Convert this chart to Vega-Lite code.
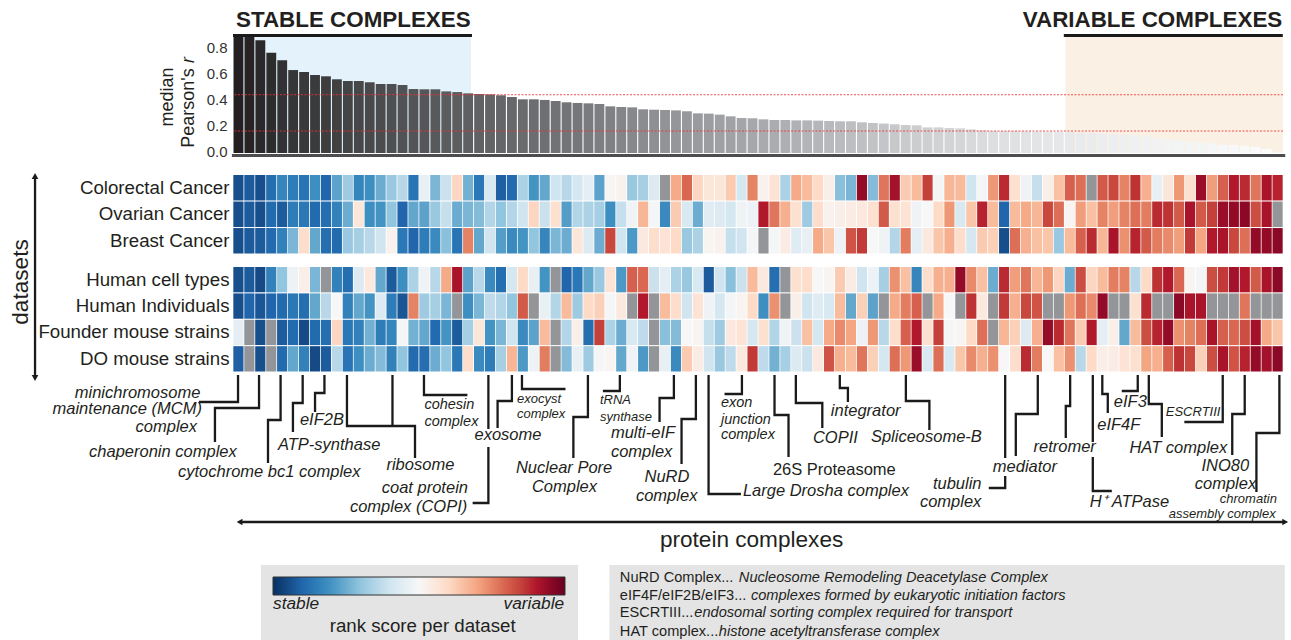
{"$schema":"https://vega.github.io/schema/vega-lite/v6.json","width":1050,"height":640,"autosize":{"type":"none"},"padding":{"left":233,"top":0,"right":8,"bottom":0},"background":"white","config":{"view":{"stroke":null},"font":"Liberation Sans"},
"datasets":{
"bands":[{"band":"stable","col":0,"col2":21.75,"top":36,"bottom":153},{"band":"variable","col":76.1,"col2":96,"top":36,"bottom":153},{"band":"panel","col":2.56,"col2":31.54,"top":565,"bottom":640},{"band":"panel","col":34.41,"col2":96.16,"top":565,"bottom":640}],
"bars":[{"col":0,"r":0.9},{"col":1,"r":0.895},{"col":2,"r":0.867},{"col":3,"r":0.772},{"col":4,"r":0.713},{"col":5,"r":0.638},{"col":6,"r":0.623},{"col":7,"r":0.6},{"col":8,"r":0.59},{"col":9,"r":0.567},{"col":10,"r":0.554},{"col":11,"r":0.554},{"col":12,"r":0.544},{"col":13,"r":0.531},{"col":14,"r":0.531},{"col":15,"r":0.523},{"col":16,"r":0.492},{"col":17,"r":0.49},{"col":18,"r":0.49},{"col":19,"r":0.474},{"col":20,"r":0.469},{"col":21,"r":0.459},{"col":22,"r":0.454},{"col":23,"r":0.451},{"col":24,"r":0.444},{"col":25,"r":0.431},{"col":26,"r":0.413},{"col":27,"r":0.413},{"col":28,"r":0.408},{"col":29,"r":0.4},{"col":30,"r":0.39},{"col":31,"r":0.385},{"col":32,"r":0.382},{"col":33,"r":0.377},{"col":34,"r":0.359},{"col":35,"r":0.354},{"col":36,"r":0.351},{"col":37,"r":0.336},{"col":38,"r":0.333},{"col":39,"r":0.331},{"col":40,"r":0.328},{"col":41,"r":0.321},{"col":42,"r":0.305},{"col":43,"r":0.303},{"col":44,"r":0.295},{"col":45,"r":0.282},{"col":46,"r":0.269},{"col":47,"r":0.267},{"col":48,"r":0.259},{"col":49,"r":0.254},{"col":50,"r":0.254},{"col":51,"r":0.251},{"col":52,"r":0.251},{"col":53,"r":0.249},{"col":54,"r":0.246},{"col":55,"r":0.244},{"col":56,"r":0.244},{"col":57,"r":0.236},{"col":58,"r":0.231},{"col":59,"r":0.226},{"col":60,"r":0.221},{"col":61,"r":0.215},{"col":62,"r":0.213},{"col":63,"r":0.197},{"col":64,"r":0.197},{"col":65,"r":0.192},{"col":66,"r":0.19},{"col":67,"r":0.182},{"col":68,"r":0.174},{"col":69,"r":0.169},{"col":70,"r":0.169},{"col":71,"r":0.169},{"col":72,"r":0.167},{"col":73,"r":0.164},{"col":74,"r":0.164},{"col":75,"r":0.162},{"col":76,"r":0.159},{"col":77,"r":0.156},{"col":78,"r":0.154},{"col":79,"r":0.149},{"col":80,"r":0.144},{"col":81,"r":0.141},{"col":82,"r":0.138},{"col":83,"r":0.126},{"col":84,"r":0.113},{"col":85,"r":0.105},{"col":86,"r":0.095},{"col":87,"r":0.087},{"col":88,"r":0.079},{"col":89,"r":0.074},{"col":90,"r":0.062},{"col":91,"r":0.062},{"col":92,"r":0.056},{"col":93,"r":0.046},{"col":94,"r":0.031},{"col":95,"r":0.003}],
"thresholds":[{"threshold":0.448},{"threshold":0.169}],
"cancers":[{"col":0,"set":"Colorectal Cancer","score":-4.4},{"col":1,"set":"Colorectal Cancer","score":-4.2},{"col":2,"set":"Colorectal Cancer","score":-4.4},{"col":3,"set":"Colorectal Cancer","score":-3.8},{"col":4,"set":"Colorectal Cancer","score":-3.3},{"col":5,"set":"Colorectal Cancer","score":-3.5},{"col":6,"set":"Colorectal Cancer","score":-3.7},{"col":7,"set":"Colorectal Cancer","score":-3.1},{"col":8,"set":"Colorectal Cancer","score":-4},{"col":9,"set":"Colorectal Cancer","score":-2.7},{"col":10,"set":"Colorectal Cancer","score":-1.8},{"col":11,"set":"Colorectal Cancer","score":-3.3},{"col":12,"set":"Colorectal Cancer","score":-3.1},{"col":13,"set":"Colorectal Cancer","score":-2.5},{"col":14,"set":"Colorectal Cancer","score":-1.9},{"col":15,"set":"Colorectal Cancer","score":-1.4},{"col":16,"set":"Colorectal Cancer","score":-3.7},{"col":17,"set":"Colorectal Cancer","score":-0.4},{"col":18,"set":"Colorectal Cancer","score":-2.3},{"col":19,"set":"Colorectal Cancer","score":-1.1},{"col":20,"set":"Colorectal Cancer","score":1.1},{"col":21,"set":"Colorectal Cancer","score":-2.4},{"col":22,"set":"Colorectal Cancer","score":-3.6},{"col":23,"set":"Colorectal Cancer","score":-0.8},{"col":24,"set":"Colorectal Cancer","score":-4.1},{"col":25,"set":"Colorectal Cancer","score":-3.9},{"col":26,"set":"Colorectal Cancer","score":-1.6},{"col":27,"set":"Colorectal Cancer","score":-3},{"col":28,"set":"Colorectal Cancer","score":-2.6},{"col":29,"set":"Colorectal Cancer","score":-1},{"col":30,"set":"Colorectal Cancer","score":-1.4},{"col":31,"set":"Colorectal Cancer","score":-0.9},{"col":32,"set":"Colorectal Cancer","score":-0.5},{"col":33,"set":"Colorectal Cancer","score":-2.7},{"col":34,"set":"Colorectal Cancer","score":0.1},{"col":35,"set":"Colorectal Cancer","score":0.2},{"col":36,"set":"Colorectal Cancer","score":-1.9},{"col":37,"set":"Colorectal Cancer","score":-1.7},{"col":38,"set":"Colorectal Cancer","score":-0.7},{"col":39,"set":"Colorectal Cancer","score":null},{"col":40,"set":"Colorectal Cancer","score":1.9},{"col":41,"set":"Colorectal Cancer","score":2.9},{"col":42,"set":"Colorectal Cancer","score":1.1},{"col":43,"set":"Colorectal Cancer","score":0.6},{"col":44,"set":"Colorectal Cancer","score":0.6},{"col":45,"set":"Colorectal Cancer","score":1.3},{"col":46,"set":"Colorectal Cancer","score":-0.9},{"col":47,"set":"Colorectal Cancer","score":2.5},{"col":48,"set":"Colorectal Cancer","score":0.2},{"col":49,"set":"Colorectal Cancer","score":0.7},{"col":50,"set":"Colorectal Cancer","score":-1.6},{"col":51,"set":"Colorectal Cancer","score":1.9},{"col":52,"set":"Colorectal Cancer","score":1.6},{"col":53,"set":"Colorectal Cancer","score":1},{"col":54,"set":"Colorectal Cancer","score":0.3},{"col":55,"set":"Colorectal Cancer","score":-2.1},{"col":56,"set":"Colorectal Cancer","score":-2.3},{"col":57,"set":"Colorectal Cancer","score":4.4},{"col":58,"set":"Colorectal Cancer","score":-2.2},{"col":59,"set":"Colorectal Cancer","score":2.7},{"col":60,"set":"Colorectal Cancer","score":4.2},{"col":61,"set":"Colorectal Cancer","score":1.3},{"col":62,"set":"Colorectal Cancer","score":1.6},{"col":63,"set":"Colorectal Cancer","score":3.5},{"col":64,"set":"Colorectal Cancer","score":-0.1},{"col":65,"set":"Colorectal Cancer","score":1.7},{"col":66,"set":"Colorectal Cancer","score":1.6},{"col":67,"set":"Colorectal Cancer","score":-1},{"col":68,"set":"Colorectal Cancer","score":-0.1},{"col":69,"set":"Colorectal Cancer","score":2.2},{"col":70,"set":"Colorectal Cancer","score":3.8},{"col":71,"set":"Colorectal Cancer","score":0.8},{"col":72,"set":"Colorectal Cancer","score":-0.2},{"col":73,"set":"Colorectal Cancer","score":-1.2},{"col":74,"set":"Colorectal Cancer","score":0.3},{"col":75,"set":"Colorectal Cancer","score":1.5},{"col":76,"set":"Colorectal Cancer","score":3},{"col":77,"set":"Colorectal Cancer","score":2.8},{"col":78,"set":"Colorectal Cancer","score":null},{"col":79,"set":"Colorectal Cancer","score":3.1},{"col":80,"set":"Colorectal Cancer","score":3.4},{"col":81,"set":"Colorectal Cancer","score":2.5},{"col":82,"set":"Colorectal Cancer","score":3.7},{"col":83,"set":"Colorectal Cancer","score":1.8},{"col":84,"set":"Colorectal Cancer","score":-0.4},{"col":85,"set":"Colorectal Cancer","score":0.6},{"col":86,"set":"Colorectal Cancer","score":2.2},{"col":87,"set":"Colorectal Cancer","score":0.8},{"col":88,"set":"Colorectal Cancer","score":4.3},{"col":89,"set":"Colorectal Cancer","score":2.1},{"col":90,"set":"Colorectal Cancer","score":3},{"col":91,"set":"Colorectal Cancer","score":4},{"col":92,"set":"Colorectal Cancer","score":3.8},{"col":93,"set":"Colorectal Cancer","score":2.7},{"col":94,"set":"Colorectal Cancer","score":4.1},{"col":95,"set":"Colorectal Cancer","score":3.9},
{"col":0,"set":"Ovarian Cancer","score":-4.4},{"col":1,"set":"Ovarian Cancer","score":-4.2},{"col":2,"set":"Ovarian Cancer","score":-4.4},{"col":3,"set":"Ovarian Cancer","score":-3.9},{"col":4,"set":"Ovarian Cancer","score":-4.2},{"col":5,"set":"Ovarian Cancer","score":-3.5},{"col":6,"set":"Ovarian Cancer","score":-3.6},{"col":7,"set":"Ovarian Cancer","score":-3.9},{"col":8,"set":"Ovarian Cancer","score":-3.8},{"col":9,"set":"Ovarian Cancer","score":-3.4},{"col":10,"set":"Ovarian Cancer","score":-2.5},{"col":11,"set":"Ovarian Cancer","score":0.6},{"col":12,"set":"Ovarian Cancer","score":-3.1},{"col":13,"set":"Ovarian Cancer","score":-3},{"col":14,"set":"Ovarian Cancer","score":-2},{"col":15,"set":"Ovarian Cancer","score":-4},{"col":16,"set":"Ovarian Cancer","score":-2.6},{"col":17,"set":"Ovarian Cancer","score":-2.7},{"col":18,"set":"Ovarian Cancer","score":-1.9},{"col":19,"set":"Ovarian Cancer","score":-1.2},{"col":20,"set":"Ovarian Cancer","score":-2.5},{"col":21,"set":"Ovarian Cancer","score":-2.3},{"col":22,"set":"Ovarian Cancer","score":-2.2},{"col":23,"set":"Ovarian Cancer","score":-1.5},{"col":24,"set":"Ovarian Cancer","score":-2},{"col":25,"set":"Ovarian Cancer","score":-1.5},{"col":26,"set":"Ovarian Cancer","score":-1},{"col":27,"set":"Ovarian Cancer","score":1.1},{"col":28,"set":"Ovarian Cancer","score":-1.1},{"col":29,"set":"Ovarian Cancer","score":0.8},{"col":30,"set":"Ovarian Cancer","score":-2.8},{"col":31,"set":"Ovarian Cancer","score":-1.5},{"col":32,"set":"Ovarian Cancer","score":-1.6},{"col":33,"set":"Ovarian Cancer","score":-1.7},{"col":34,"set":"Ovarian Cancer","score":-3.1},{"col":35,"set":"Ovarian Cancer","score":-1.2},{"col":36,"set":"Ovarian Cancer","score":-0.2},{"col":37,"set":"Ovarian Cancer","score":1.7},{"col":38,"set":"Ovarian Cancer","score":-0.1},{"col":39,"set":"Ovarian Cancer","score":-3.2},{"col":40,"set":"Ovarian Cancer","score":1.3},{"col":41,"set":"Ovarian Cancer","score":-0.8},{"col":42,"set":"Ovarian Cancer","score":-2.5},{"col":43,"set":"Ovarian Cancer","score":-0.6},{"col":44,"set":"Ovarian Cancer","score":-0.7},{"col":45,"set":"Ovarian Cancer","score":-0.9},{"col":46,"set":"Ovarian Cancer","score":-0.2},{"col":47,"set":"Ovarian Cancer","score":-0.3},{"col":48,"set":"Ovarian Cancer","score":4},{"col":49,"set":"Ovarian Cancer","score":2.7},{"col":50,"set":"Ovarian Cancer","score":1.8},{"col":51,"set":"Ovarian Cancer","score":0.8},{"col":52,"set":"Ovarian Cancer","score":-1.8},{"col":53,"set":"Ovarian Cancer","score":0.9},{"col":54,"set":"Ovarian Cancer","score":0.2},{"col":55,"set":"Ovarian Cancer","score":0.3},{"col":56,"set":"Ovarian Cancer","score":0.4},{"col":57,"set":"Ovarian Cancer","score":0.5},{"col":58,"set":"Ovarian Cancer","score":0.8},{"col":59,"set":"Ovarian Cancer","score":3.1},{"col":60,"set":"Ovarian Cancer","score":0.8},{"col":61,"set":"Ovarian Cancer","score":0.7},{"col":62,"set":"Ovarian Cancer","score":-0.2},{"col":63,"set":"Ovarian Cancer","score":0},{"col":64,"set":"Ovarian Cancer","score":1},{"col":65,"set":"Ovarian Cancer","score":2.2},{"col":66,"set":"Ovarian Cancer","score":-0.8},{"col":67,"set":"Ovarian Cancer","score":1.4},{"col":68,"set":"Ovarian Cancer","score":3.9},{"col":69,"set":"Ovarian Cancer","score":1.6},{"col":70,"set":"Ovarian Cancer","score":-4},{"col":71,"set":"Ovarian Cancer","score":1.6},{"col":72,"set":"Ovarian Cancer","score":1.9},{"col":73,"set":"Ovarian Cancer","score":1.7},{"col":74,"set":"Ovarian Cancer","score":3.4},{"col":75,"set":"Ovarian Cancer","score":2.8},{"col":76,"set":"Ovarian Cancer","score":0.1},{"col":77,"set":"Ovarian Cancer","score":2.1},{"col":78,"set":"Ovarian Cancer","score":1.5},{"col":79,"set":"Ovarian Cancer","score":2.5},{"col":80,"set":"Ovarian Cancer","score":2.1},{"col":81,"set":"Ovarian Cancer","score":2.5},{"col":82,"set":"Ovarian Cancer","score":2.8},{"col":83,"set":"Ovarian Cancer","score":2.6},{"col":84,"set":"Ovarian Cancer","score":3.8},{"col":85,"set":"Ovarian Cancer","score":3.7},{"col":86,"set":"Ovarian Cancer","score":3.1},{"col":87,"set":"Ovarian Cancer","score":4.1},{"col":88,"set":"Ovarian Cancer","score":3.1},{"col":89,"set":"Ovarian Cancer","score":3.5},{"col":90,"set":"Ovarian Cancer","score":4.3},{"col":91,"set":"Ovarian Cancer","score":4.4},{"col":92,"set":"Ovarian Cancer","score":4.5},{"col":93,"set":"Ovarian Cancer","score":3.3},{"col":94,"set":"Ovarian Cancer","score":4.1},{"col":95,"set":"Ovarian Cancer","score":null},
{"col":0,"set":"Breast Cancer","score":-4.4},{"col":1,"set":"Breast Cancer","score":-4.2},{"col":2,"set":"Breast Cancer","score":-4.2},{"col":3,"set":"Breast Cancer","score":-3.9},{"col":4,"set":"Breast Cancer","score":-3.4},{"col":5,"set":"Breast Cancer","score":-2.3},{"col":6,"set":"Breast Cancer","score":0.9},{"col":7,"set":"Breast Cancer","score":-2.6},{"col":8,"set":"Breast Cancer","score":-3.8},{"col":9,"set":"Breast Cancer","score":-3.9},{"col":10,"set":"Breast Cancer","score":-1.9},{"col":11,"set":"Breast Cancer","score":-1.7},{"col":12,"set":"Breast Cancer","score":-1.4},{"col":13,"set":"Breast Cancer","score":-1},{"col":14,"set":"Breast Cancer","score":0.2},{"col":15,"set":"Breast Cancer","score":-3.6},{"col":16,"set":"Breast Cancer","score":-4},{"col":17,"set":"Breast Cancer","score":-3.5},{"col":18,"set":"Breast Cancer","score":-3.2},{"col":19,"set":"Breast Cancer","score":-2.1},{"col":20,"set":"Breast Cancer","score":-3.7},{"col":21,"set":"Breast Cancer","score":2.5},{"col":22,"set":"Breast Cancer","score":-2.6},{"col":23,"set":"Breast Cancer","score":-1},{"col":24,"set":"Breast Cancer","score":-2.8},{"col":25,"set":"Breast Cancer","score":-3.2},{"col":26,"set":"Breast Cancer","score":-3},{"col":27,"set":"Breast Cancer","score":-2},{"col":28,"set":"Breast Cancer","score":-3.3},{"col":29,"set":"Breast Cancer","score":-2.3},{"col":30,"set":"Breast Cancer","score":-2.5},{"col":31,"set":"Breast Cancer","score":0.6},{"col":32,"set":"Breast Cancer","score":-0.7},{"col":33,"set":"Breast Cancer","score":-2.5},{"col":34,"set":"Breast Cancer","score":3.4},{"col":35,"set":"Breast Cancer","score":-1},{"col":36,"set":"Breast Cancer","score":-2.9},{"col":37,"set":"Breast Cancer","score":0.5},{"col":38,"set":"Breast Cancer","score":0.9},{"col":39,"set":"Breast Cancer","score":0.7},{"col":40,"set":"Breast Cancer","score":1},{"col":41,"set":"Breast Cancer","score":-1.9},{"col":42,"set":"Breast Cancer","score":-1.6},{"col":43,"set":"Breast Cancer","score":0.1},{"col":44,"set":"Breast Cancer","score":0.2},{"col":45,"set":"Breast Cancer","score":-1.2},{"col":46,"set":"Breast Cancer","score":-1},{"col":47,"set":"Breast Cancer","score":-0.1},{"col":48,"set":"Breast Cancer","score":null},{"col":49,"set":"Breast Cancer","score":-0.1},{"col":50,"set":"Breast Cancer","score":0.4},{"col":51,"set":"Breast Cancer","score":-0.6},{"col":52,"set":"Breast Cancer","score":-0.4},{"col":53,"set":"Breast Cancer","score":1.9},{"col":54,"set":"Breast Cancer","score":1.4},{"col":55,"set":"Breast Cancer","score":-0.3},{"col":56,"set":"Breast Cancer","score":3.2},{"col":57,"set":"Breast Cancer","score":3.6},{"col":58,"set":"Breast Cancer","score":0},{"col":59,"set":"Breast Cancer","score":-0.2},{"col":60,"set":"Breast Cancer","score":-1.5},{"col":61,"set":"Breast Cancer","score":2.6},{"col":62,"set":"Breast Cancer","score":-0.5},{"col":63,"set":"Breast Cancer","score":0.5},{"col":64,"set":"Breast Cancer","score":1.4},{"col":65,"set":"Breast Cancer","score":1.8},{"col":66,"set":"Breast Cancer","score":0.9},{"col":67,"set":"Breast Cancer","score":-0.9},{"col":68,"set":"Breast Cancer","score":1.3},{"col":69,"set":"Breast Cancer","score":1.2},{"col":70,"set":"Breast Cancer","score":-4.4},{"col":71,"set":"Breast Cancer","score":2.8},{"col":72,"set":"Breast Cancer","score":1.8},{"col":73,"set":"Breast Cancer","score":1.5},{"col":74,"set":"Breast Cancer","score":1.4},{"col":75,"set":"Breast Cancer","score":-1.9},{"col":76,"set":"Breast Cancer","score":1.6},{"col":77,"set":"Breast Cancer","score":3},{"col":78,"set":"Breast Cancer","score":3.8},{"col":79,"set":"Breast Cancer","score":1.7},{"col":80,"set":"Breast Cancer","score":4.1},{"col":81,"set":"Breast Cancer","score":2.3},{"col":82,"set":"Breast Cancer","score":3.9},{"col":83,"set":"Breast Cancer","score":3.1},{"col":84,"set":"Breast Cancer","score":2.6},{"col":85,"set":"Breast Cancer","score":2.4},{"col":86,"set":"Breast Cancer","score":2.1},{"col":87,"set":"Breast Cancer","score":3.6},{"col":88,"set":"Breast Cancer","score":2},{"col":89,"set":"Breast Cancer","score":4},{"col":90,"set":"Breast Cancer","score":4.1},{"col":91,"set":"Breast Cancer","score":3.4},{"col":92,"set":"Breast Cancer","score":2.8},{"col":93,"set":"Breast Cancer","score":4.4},{"col":94,"set":"Breast Cancer","score":4.4},{"col":95,"set":"Breast Cancer","score":4.5}],
"models":[{"col":0,"set":"Human cell types","score":-4.4},{"col":1,"set":"Human cell types","score":-4.2},{"col":2,"set":"Human cell types","score":-4.5},{"col":3,"set":"Human cell types","score":-3.4},{"col":4,"set":"Human cell types","score":-2},{"col":5,"set":"Human cell types","score":-0.3},{"col":6,"set":"Human cell types","score":0.3},{"col":7,"set":"Human cell types","score":-2.3},{"col":8,"set":"Human cell types","score":null},{"col":9,"set":"Human cell types","score":-3.4},{"col":10,"set":"Human cell types","score":-3.8},{"col":11,"set":"Human cell types","score":-0.7},{"col":12,"set":"Human cell types","score":0.5},{"col":13,"set":"Human cell types","score":-2.6},{"col":14,"set":"Human cell types","score":-4.2},{"col":15,"set":"Human cell types","score":-3.1},{"col":16,"set":"Human cell types","score":-1.6},{"col":17,"set":"Human cell types","score":-0.2},{"col":18,"set":"Human cell types","score":-1.4},{"col":19,"set":"Human cell types","score":1.9},{"col":20,"set":"Human cell types","score":4.1},{"col":21,"set":"Human cell types","score":-2.7},{"col":22,"set":"Human cell types","score":-1.4},{"col":23,"set":"Human cell types","score":-3.2},{"col":24,"set":"Human cell types","score":-3.8},{"col":25,"set":"Human cell types","score":-0.9},{"col":26,"set":"Human cell types","score":1},{"col":27,"set":"Human cell types","score":-0.4},{"col":28,"set":"Human cell types","score":-3},{"col":29,"set":"Human cell types","score":null},{"col":30,"set":"Human cell types","score":-4},{"col":31,"set":"Human cell types","score":-3.6},{"col":32,"set":"Human cell types","score":-2.6},{"col":33,"set":"Human cell types","score":-1.9},{"col":34,"set":"Human cell types","score":0.7},{"col":35,"set":"Human cell types","score":-2.9},{"col":36,"set":"Human cell types","score":3},{"col":37,"set":"Human cell types","score":2.9},{"col":38,"set":"Human cell types","score":-1.1},{"col":39,"set":"Human cell types","score":-0.5},{"col":40,"set":"Human cell types","score":-1.6},{"col":41,"set":"Human cell types","score":-1.9},{"col":42,"set":"Human cell types","score":-0.8},{"col":43,"set":"Human cell types","score":-4.2},{"col":44,"set":"Human cell types","score":-1},{"col":45,"set":"Human cell types","score":-2.1},{"col":46,"set":"Human cell types","score":-1.1},{"col":47,"set":"Human cell types","score":1.6},{"col":48,"set":"Human cell types","score":0.5},{"col":49,"set":"Human cell types","score":-3.8},{"col":50,"set":"Human cell types","score":null},{"col":51,"set":"Human cell types","score":0.8},{"col":52,"set":"Human cell types","score":0.9},{"col":53,"set":"Human cell types","score":0},{"col":54,"set":"Human cell types","score":0.1},{"col":55,"set":"Human cell types","score":1.3},{"col":56,"set":"Human cell types","score":0.4},{"col":57,"set":"Human cell types","score":-1},{"col":58,"set":"Human cell types","score":-0.3},{"col":59,"set":"Human cell types","score":-1.7},{"col":60,"set":"Human cell types","score":2.3},{"col":61,"set":"Human cell types","score":1.5},{"col":62,"set":"Human cell types","score":-3.3},{"col":63,"set":"Human cell types","score":0.9},{"col":64,"set":"Human cell types","score":1.8},{"col":65,"set":"Human cell types","score":1.8},{"col":66,"set":"Human cell types","score":4.4},{"col":67,"set":"Human cell types","score":2.4},{"col":68,"set":"Human cell types","score":1.5},{"col":69,"set":"Human cell types","score":-2.5},{"col":70,"set":"Human cell types","score":3.8},{"col":71,"set":"Human cell types","score":2.1},{"col":72,"set":"Human cell types","score":2.7},{"col":73,"set":"Human cell types","score":1.7},{"col":74,"set":"Human cell types","score":2.2},{"col":75,"set":"Human cell types","score":1.1},{"col":76,"set":"Human cell types","score":-2.5},{"col":77,"set":"Human cell types","score":3.3},{"col":78,"set":"Human cell types","score":1.1},{"col":79,"set":"Human cell types","score":1.6},{"col":80,"set":"Human cell types","score":2.6},{"col":81,"set":"Human cell types","score":2.5},{"col":82,"set":"Human cell types","score":-1.4},{"col":83,"set":"Human cell types","score":1},{"col":84,"set":"Human cell types","score":3.7},{"col":85,"set":"Human cell types","score":4},{"col":86,"set":"Human cell types","score":2.9},{"col":87,"set":"Human cell types","score":0.1},{"col":88,"set":"Human cell types","score":-0.1},{"col":89,"set":"Human cell types","score":3.3},{"col":90,"set":"Human cell types","score":3.6},{"col":91,"set":"Human cell types","score":4.2},{"col":92,"set":"Human cell types","score":4},{"col":93,"set":"Human cell types","score":3.1},{"col":94,"set":"Human cell types","score":4.1},{"col":95,"set":"Human cell types","score":4.5},
{"col":0,"set":"Human Individuals","score":-4.4},{"col":1,"set":"Human Individuals","score":-4},{"col":2,"set":"Human Individuals","score":-4.3},{"col":3,"set":"Human Individuals","score":-4},{"col":4,"set":"Human Individuals","score":-3.9},{"col":5,"set":"Human Individuals","score":-3.6},{"col":6,"set":"Human Individuals","score":-3.8},{"col":7,"set":"Human Individuals","score":-2.6},{"col":8,"set":"Human Individuals","score":-1.4},{"col":9,"set":"Human Individuals","score":0},{"col":10,"set":"Human Individuals","score":-3.4},{"col":11,"set":"Human Individuals","score":-2.6},{"col":12,"set":"Human Individuals","score":-3},{"col":13,"set":"Human Individuals","score":-0.7},{"col":14,"set":"Human Individuals","score":-3.5},{"col":15,"set":"Human Individuals","score":-4.3},{"col":16,"set":"Human Individuals","score":2.5},{"col":17,"set":"Human Individuals","score":-1.8},{"col":18,"set":"Human Individuals","score":-1.7},{"col":19,"set":"Human Individuals","score":-2.3},{"col":20,"set":"Human Individuals","score":null},{"col":21,"set":"Human Individuals","score":-3.1},{"col":22,"set":"Human Individuals","score":-2.3},{"col":23,"set":"Human Individuals","score":-1.3},{"col":24,"set":"Human Individuals","score":-1.5},{"col":25,"set":"Human Individuals","score":-2},{"col":26,"set":"Human Individuals","score":3.1},{"col":27,"set":"Human Individuals","score":null},{"col":28,"set":"Human Individuals","score":-0.4},{"col":29,"set":"Human Individuals","score":-1.5},{"col":30,"set":"Human Individuals","score":1.6},{"col":31,"set":"Human Individuals","score":-1.8},{"col":32,"set":"Human Individuals","score":1},{"col":33,"set":"Human Individuals","score":1.2},{"col":34,"set":"Human Individuals","score":-0.1},{"col":35,"set":"Human Individuals","score":0.5},{"col":36,"set":"Human Individuals","score":null},{"col":37,"set":"Human Individuals","score":4},{"col":38,"set":"Human Individuals","score":null},{"col":39,"set":"Human Individuals","score":1.6},{"col":40,"set":"Human Individuals","score":0.9},{"col":41,"set":"Human Individuals","score":-1},{"col":42,"set":"Human Individuals","score":0.7},{"col":43,"set":"Human Individuals","score":-0.2},{"col":44,"set":"Human Individuals","score":-0.9},{"col":45,"set":"Human Individuals","score":-0.1},{"col":46,"set":"Human Individuals","score":0.1},{"col":47,"set":"Human Individuals","score":1},{"col":48,"set":"Human Individuals","score":-3.1},{"col":49,"set":"Human Individuals","score":2.3},{"col":50,"set":"Human Individuals","score":null},{"col":51,"set":"Human Individuals","score":0.3},{"col":52,"set":"Human Individuals","score":-1},{"col":53,"set":"Human Individuals","score":-0.6},{"col":54,"set":"Human Individuals","score":-0.8},{"col":55,"set":"Human Individuals","score":1.6},{"col":56,"set":"Human Individuals","score":-2.6},{"col":57,"set":"Human Individuals","score":1.2},{"col":58,"set":"Human Individuals","score":-2.7},{"col":59,"set":"Human Individuals","score":null},{"col":60,"set":"Human Individuals","score":1.9},{"col":61,"set":"Human Individuals","score":2.6},{"col":62,"set":"Human Individuals","score":3},{"col":63,"set":"Human Individuals","score":null},{"col":64,"set":"Human Individuals","score":1.9},{"col":65,"set":"Human Individuals","score":0},{"col":66,"set":"Human Individuals","score":null},{"col":67,"set":"Human Individuals","score":3.7},{"col":68,"set":"Human Individuals","score":0.5},{"col":69,"set":"Human Individuals","score":null},{"col":70,"set":"Human Individuals","score":3.6},{"col":71,"set":"Human Individuals","score":1.8},{"col":72,"set":"Human Individuals","score":3.4},{"col":73,"set":"Human Individuals","score":3.2},{"col":74,"set":"Human Individuals","score":null},{"col":75,"set":"Human Individuals","score":null},{"col":76,"set":"Human Individuals","score":2.2},{"col":77,"set":"Human Individuals","score":2.8},{"col":78,"set":"Human Individuals","score":2.4},{"col":79,"set":"Human Individuals","score":4.4},{"col":80,"set":"Human Individuals","score":null},{"col":81,"set":"Human Individuals","score":null},{"col":82,"set":"Human Individuals","score":0.8},{"col":83,"set":"Human Individuals","score":3.8},{"col":84,"set":"Human Individuals","score":null},{"col":85,"set":"Human Individuals","score":null},{"col":86,"set":"Human Individuals","score":4.5},{"col":87,"set":"Human Individuals","score":4.1},{"col":88,"set":"Human Individuals","score":4.1},{"col":89,"set":"Human Individuals","score":null},{"col":90,"set":"Human Individuals","score":null},{"col":91,"set":"Human Individuals","score":null},{"col":92,"set":"Human Individuals","score":2.7},{"col":93,"set":"Human Individuals","score":null},{"col":94,"set":"Human Individuals","score":null},{"col":95,"set":"Human Individuals","score":null},
{"col":0,"set":"Founder mouse strains","score":-0.5},{"col":1,"set":"Founder mouse strains","score":null},{"col":2,"set":"Founder mouse strains","score":-4.4},{"col":3,"set":"Founder mouse strains","score":null},{"col":4,"set":"Founder mouse strains","score":-4.2},{"col":5,"set":"Founder mouse strains","score":-3.9},{"col":6,"set":"Founder mouse strains","score":-4.5},{"col":7,"set":"Founder mouse strains","score":-3.9},{"col":8,"set":"Founder mouse strains","score":-3.8},{"col":9,"set":"Founder mouse strains","score":1.1},{"col":10,"set":"Founder mouse strains","score":-3.6},{"col":11,"set":"Founder mouse strains","score":-3.4},{"col":12,"set":"Founder mouse strains","score":-2.4},{"col":13,"set":"Founder mouse strains","score":-3.5},{"col":14,"set":"Founder mouse strains","score":-3.3},{"col":15,"set":"Founder mouse strains","score":-0.1},{"col":16,"set":"Founder mouse strains","score":-2.4},{"col":17,"set":"Founder mouse strains","score":-2.6},{"col":18,"set":"Founder mouse strains","score":-3.9},{"col":19,"set":"Founder mouse strains","score":-3},{"col":20,"set":"Founder mouse strains","score":-4.2},{"col":21,"set":"Founder mouse strains","score":-1.7},{"col":22,"set":"Founder mouse strains","score":0.6},{"col":23,"set":"Founder mouse strains","score":-3},{"col":24,"set":"Founder mouse strains","score":-2.3},{"col":25,"set":"Founder mouse strains","score":-1},{"col":26,"set":"Founder mouse strains","score":-3.2},{"col":27,"set":"Founder mouse strains","score":-2.7},{"col":28,"set":"Founder mouse strains","score":1.6},{"col":29,"set":"Founder mouse strains","score":null},{"col":30,"set":"Founder mouse strains","score":-1.5},{"col":31,"set":"Founder mouse strains","score":0.3},{"col":32,"set":"Founder mouse strains","score":-3.8},{"col":33,"set":"Founder mouse strains","score":3.5},{"col":34,"set":"Founder mouse strains","score":-1.6},{"col":35,"set":"Founder mouse strains","score":-2.5},{"col":36,"set":"Founder mouse strains","score":-0.8},{"col":37,"set":"Founder mouse strains","score":-1.3},{"col":38,"set":"Founder mouse strains","score":null},{"col":39,"set":"Founder mouse strains","score":-2.1},{"col":40,"set":"Founder mouse strains","score":-2.2},{"col":41,"set":"Founder mouse strains","score":0},{"col":42,"set":"Founder mouse strains","score":0.1},{"col":43,"set":"Founder mouse strains","score":-1.2},{"col":44,"set":"Founder mouse strains","score":-1.8},{"col":45,"set":"Founder mouse strains","score":0.5},{"col":46,"set":"Founder mouse strains","score":0.7},{"col":47,"set":"Founder mouse strains","score":-0.9},{"col":48,"set":"Founder mouse strains","score":0.8},{"col":49,"set":"Founder mouse strains","score":-1.5},{"col":50,"set":"Founder mouse strains","score":-0.2},{"col":51,"set":"Founder mouse strains","score":-1.1},{"col":52,"set":"Founder mouse strains","score":1.5},{"col":53,"set":"Founder mouse strains","score":-0.9},{"col":54,"set":"Founder mouse strains","score":1.9},{"col":55,"set":"Founder mouse strains","score":2.4},{"col":56,"set":"Founder mouse strains","score":2},{"col":57,"set":"Founder mouse strains","score":-0.3},{"col":58,"set":"Founder mouse strains","score":2.2},{"col":59,"set":"Founder mouse strains","score":-1.4},{"col":60,"set":"Founder mouse strains","score":0.9},{"col":61,"set":"Founder mouse strains","score":3},{"col":62,"set":"Founder mouse strains","score":4},{"col":63,"set":"Founder mouse strains","score":0.8},{"col":64,"set":"Founder mouse strains","score":3.5},{"col":65,"set":"Founder mouse strains","score":-0.1},{"col":66,"set":"Founder mouse strains","score":0.1},{"col":67,"set":"Founder mouse strains","score":1},{"col":68,"set":"Founder mouse strains","score":2.8},{"col":69,"set":"Founder mouse strains","score":null},{"col":70,"set":"Founder mouse strains","score":1.7},{"col":71,"set":"Founder mouse strains","score":1.2},{"col":72,"set":"Founder mouse strains","score":-0.7},{"col":73,"set":"Founder mouse strains","score":1.8},{"col":74,"set":"Founder mouse strains","score":4.4},{"col":75,"set":"Founder mouse strains","score":3.8},{"col":76,"set":"Founder mouse strains","score":2.7},{"col":77,"set":"Founder mouse strains","score":1.3},{"col":78,"set":"Founder mouse strains","score":4},{"col":79,"set":"Founder mouse strains","score":-0.5},{"col":80,"set":"Founder mouse strains","score":0.3},{"col":81,"set":"Founder mouse strains","score":-2.6},{"col":82,"set":"Founder mouse strains","score":1.6},{"col":83,"set":"Founder mouse strains","score":3.3},{"col":84,"set":"Founder mouse strains","score":3.9},{"col":85,"set":"Founder mouse strains","score":4.4},{"col":86,"set":"Founder mouse strains","score":2.3},{"col":87,"set":"Founder mouse strains","score":2.5},{"col":88,"set":"Founder mouse strains","score":2.8},{"col":89,"set":"Founder mouse strains","score":4.1},{"col":90,"set":"Founder mouse strains","score":3},{"col":91,"set":"Founder mouse strains","score":2.9},{"col":92,"set":"Founder mouse strains","score":3.3},{"col":93,"set":"Founder mouse strains","score":4.2},{"col":94,"set":"Founder mouse strains","score":1.9},{"col":95,"set":"Founder mouse strains","score":1.4},
{"col":0,"set":"DO mouse strains","score":-4.1},{"col":1,"set":"DO mouse strains","score":null},{"col":2,"set":"DO mouse strains","score":-4.4},{"col":3,"set":"DO mouse strains","score":null},{"col":4,"set":"DO mouse strains","score":-3.9},{"col":5,"set":"DO mouse strains","score":-2.6},{"col":6,"set":"DO mouse strains","score":-3.4},{"col":7,"set":"DO mouse strains","score":-4.5},{"col":8,"set":"DO mouse strains","score":-4.2},{"col":9,"set":"DO mouse strains","score":-1.4},{"col":10,"set":"DO mouse strains","score":-3.7},{"col":11,"set":"DO mouse strains","score":-3.1},{"col":12,"set":"DO mouse strains","score":-2.5},{"col":13,"set":"DO mouse strains","score":-2.2},{"col":14,"set":"DO mouse strains","score":-3.4},{"col":15,"set":"DO mouse strains","score":-2},{"col":16,"set":"DO mouse strains","score":-3.9},{"col":17,"set":"DO mouse strains","score":-3.8},{"col":18,"set":"DO mouse strains","score":-2.5},{"col":19,"set":"DO mouse strains","score":-2},{"col":20,"set":"DO mouse strains","score":-3.6},{"col":21,"set":"DO mouse strains","score":0.9},{"col":22,"set":"DO mouse strains","score":-3.2},{"col":23,"set":"DO mouse strains","score":-3.5},{"col":24,"set":"DO mouse strains","score":-1.7},{"col":25,"set":"DO mouse strains","score":1.7},{"col":26,"set":"DO mouse strains","score":-2.9},{"col":27,"set":"DO mouse strains","score":-0.3},{"col":28,"set":"DO mouse strains","score":2.6},{"col":29,"set":"DO mouse strains","score":null},{"col":30,"set":"DO mouse strains","score":-2.2},{"col":31,"set":"DO mouse strains","score":-0.4},{"col":32,"set":"DO mouse strains","score":-1.8},{"col":33,"set":"DO mouse strains","score":-0.1},{"col":34,"set":"DO mouse strains","score":0.1},{"col":35,"set":"DO mouse strains","score":-2.6},{"col":36,"set":"DO mouse strains","score":-0.2},{"col":37,"set":"DO mouse strains","score":-2.9},{"col":38,"set":"DO mouse strains","score":null},{"col":39,"set":"DO mouse strains","score":-0.4},{"col":40,"set":"DO mouse strains","score":-3.2},{"col":41,"set":"DO mouse strains","score":1.3},{"col":42,"set":"DO mouse strains","score":0.4},{"col":43,"set":"DO mouse strains","score":-1},{"col":44,"set":"DO mouse strains","score":-1.9},{"col":45,"set":"DO mouse strains","score":-1.3},{"col":46,"set":"DO mouse strains","score":0.5},{"col":47,"set":"DO mouse strains","score":3.6},{"col":48,"set":"DO mouse strains","score":-1.3},{"col":49,"set":"DO mouse strains","score":-2.4},{"col":50,"set":"DO mouse strains","score":-1.7},{"col":51,"set":"DO mouse strains","score":-0.7},{"col":52,"set":"DO mouse strains","score":-1.1},{"col":53,"set":"DO mouse strains","score":0.5},{"col":54,"set":"DO mouse strains","score":3.2},{"col":55,"set":"DO mouse strains","score":1.8},{"col":56,"set":"DO mouse strains","score":1.6},{"col":57,"set":"DO mouse strains","score":2.7},{"col":58,"set":"DO mouse strains","score":1.2},{"col":59,"set":"DO mouse strains","score":-0.9},{"col":60,"set":"DO mouse strains","score":2.8},{"col":61,"set":"DO mouse strains","score":2.2},{"col":62,"set":"DO mouse strains","score":4.3},{"col":63,"set":"DO mouse strains","score":-0.8},{"col":64,"set":"DO mouse strains","score":2.8},{"col":65,"set":"DO mouse strains","score":-0.8},{"col":66,"set":"DO mouse strains","score":1.4},{"col":67,"set":"DO mouse strains","score":2.4},{"col":68,"set":"DO mouse strains","score":1.8},{"col":69,"set":"DO mouse strains","score":2.3},{"col":70,"set":"DO mouse strains","score":0},{"col":71,"set":"DO mouse strains","score":0.9},{"col":72,"set":"DO mouse strains","score":3.8},{"col":73,"set":"DO mouse strains","score":2.6},{"col":74,"set":"DO mouse strains","score":0},{"col":75,"set":"DO mouse strains","score":1.5},{"col":76,"set":"DO mouse strains","score":2.3},{"col":77,"set":"DO mouse strains","score":-1.4},{"col":78,"set":"DO mouse strains","score":1},{"col":79,"set":"DO mouse strains","score":0.3},{"col":80,"set":"DO mouse strains","score":0.4},{"col":81,"set":"DO mouse strains","score":0.7},{"col":82,"set":"DO mouse strains","score":0.8},{"col":83,"set":"DO mouse strains","score":2},{"col":84,"set":"DO mouse strains","score":1.8},{"col":85,"set":"DO mouse strains","score":3},{"col":86,"set":"DO mouse strains","score":3.7},{"col":87,"set":"DO mouse strains","score":3.4},{"col":88,"set":"DO mouse strains","score":1.2},{"col":89,"set":"DO mouse strains","score":3.3},{"col":90,"set":"DO mouse strains","score":4.1},{"col":91,"set":"DO mouse strains","score":3.2},{"col":92,"set":"DO mouse strains","score":3.9},{"col":93,"set":"DO mouse strains","score":4.4},{"col":94,"set":"DO mouse strains","score":4.2},{"col":95,"set":"DO mouse strains","score":4.5}],
"frames":[{"col":0,"col2":21.85,"depth":35.5,"part":"heading"},{"col":75.96,"col2":95.98,"depth":35.5,"part":"heading"},{"col":-0.1,"col2":96.2,"depth":155.5,"part":"baseline"}],
"leaders":[{"id":"mcm","seq":0,"col":0.46,"depth":375},{"id":"mcm","seq":1,"col":0.46,"depth":402},{"id":"mcm","seq":2,"col":-3.11,"depth":402},
{"id":"chap","seq":0,"col":2.38,"depth":375},{"id":"chap","seq":1,"col":2.38,"depth":408},{"id":"chap","seq":2,"col":-1.65,"depth":408},{"id":"chap","seq":3,"col":-1.65,"depth":442},
{"id":"cyt","seq":0,"col":4.35,"depth":375},{"id":"cyt","seq":1,"col":4.35,"depth":420},{"id":"cyt","seq":2,"col":3.2,"depth":420},{"id":"cyt","seq":3,"col":3.2,"depth":463},
{"id":"atp","seq":0,"col":6.37,"depth":375},{"id":"atp","seq":1,"col":6.37,"depth":403},{"id":"atp","seq":2,"col":5.48,"depth":403},{"id":"atp","seq":3,"col":5.48,"depth":432},
{"id":"eif2b","seq":0,"col":8.36,"depth":375},{"id":"eif2b","seq":1,"col":8.36,"depth":393},{"id":"eif2b","seq":2,"col":7.5,"depth":393},{"id":"eif2b","seq":3,"col":7.5,"depth":412},
{"id":"ribo","seq":0,"col":10.42,"depth":375},{"id":"ribo","seq":1,"col":10.42,"depth":426},{"id":"ribo","seq":2,"col":16.64,"depth":426},{"id":"ribo","seq":3,"col":16.64,"depth":458},
{"id":"ribo2","seq":0,"col":14.58,"depth":375},{"id":"ribo2","seq":1,"col":14.58,"depth":426},
{"id":"cohesin","seq":0,"col":17.46,"depth":375},{"id":"cohesin","seq":1,"col":17.46,"depth":395},{"id":"cohesin","seq":2,"col":21.43,"depth":395},
{"id":"copi","seq":0,"col":23.35,"depth":375},{"id":"copi","seq":1,"col":23.35,"depth":429},
{"id":"copi2","seq":0,"col":23.35,"depth":447},{"id":"copi2","seq":1,"col":23.35,"depth":503},{"id":"copi2","seq":2,"col":21.91,"depth":503},
{"id":"exosome","seq":0,"col":25.5,"depth":375},{"id":"exosome","seq":1,"col":25.5,"depth":401},{"id":"exosome","seq":2,"col":24.19,"depth":401},{"id":"exosome","seq":3,"col":24.19,"depth":428},
{"id":"exocyst","seq":0,"col":26.42,"depth":375},{"id":"exocyst","seq":1,"col":26.42,"depth":389},{"id":"exocyst","seq":2,"col":30.4,"depth":389},
{"id":"npc","seq":0,"col":32.45,"depth":375},{"id":"npc","seq":1,"col":32.45,"depth":417},{"id":"npc","seq":2,"col":31.12,"depth":417},{"id":"npc","seq":3,"col":31.12,"depth":458},
{"id":"trna","seq":0,"col":35.37,"depth":375},{"id":"trna","seq":1,"col":35.37,"depth":391},{"id":"trna","seq":2,"col":33.82,"depth":391},
{"id":"multi","seq":0,"col":40.31,"depth":375},{"id":"multi","seq":1,"col":40.31,"depth":398},{"id":"multi","seq":2,"col":39,"depth":398},{"id":"multi","seq":3,"col":39,"depth":422},
{"id":"nurd","seq":0,"col":42.32,"depth":375},{"id":"nurd","seq":1,"col":42.32,"depth":419},{"id":"nurd","seq":2,"col":41.01,"depth":419},{"id":"nurd","seq":3,"col":41.01,"depth":464},
{"id":"drosha","seq":0,"col":43.48,"depth":375},{"id":"drosha","seq":1,"col":43.48,"depth":494},{"id":"drosha","seq":2,"col":46.44,"depth":494},
{"id":"exon","seq":0,"col":46.53,"depth":375},{"id":"exon","seq":1,"col":46.53,"depth":394},{"id":"exon","seq":2,"col":44.94,"depth":394},
{"id":"p26s","seq":0,"col":49.51,"depth":375},{"id":"p26s","seq":1,"col":49.51,"depth":415},{"id":"p26s","seq":2,"col":50.79,"depth":415},{"id":"p26s","seq":3,"col":50.79,"depth":457},
{"id":"copii","seq":0,"col":51.46,"depth":375},{"id":"copii","seq":1,"col":51.46,"depth":403},{"id":"copii","seq":2,"col":53.88,"depth":403},{"id":"copii","seq":3,"col":53.88,"depth":428},
{"id":"integ","seq":0,"col":55.48,"depth":375},{"id":"integ","seq":1,"col":55.48,"depth":388},{"id":"integ","seq":2,"col":56.22,"depth":388},{"id":"integ","seq":3,"col":56.22,"depth":402},
{"id":"splice","seq":0,"col":61.52,"depth":375},{"id":"splice","seq":1,"col":61.52,"depth":401},{"id":"splice","seq":2,"col":63.67,"depth":401},{"id":"splice","seq":3,"col":63.67,"depth":430},
{"id":"tub","seq":0,"col":70.6,"depth":375},{"id":"tub","seq":1,"col":70.6,"depth":458},
{"id":"tub2","seq":0,"col":70.6,"depth":476},{"id":"tub2","seq":1,"col":70.6,"depth":488},{"id":"tub2","seq":2,"col":69.1,"depth":488},
{"id":"med","seq":0,"col":73.58,"depth":375},{"id":"med","seq":1,"col":73.58,"depth":414},{"id":"med","seq":2,"col":71.57,"depth":414},{"id":"med","seq":3,"col":71.57,"depth":456},
{"id":"retro","seq":0,"col":76.54,"depth":375},{"id":"retro","seq":1,"col":76.54,"depth":406},{"id":"retro","seq":2,"col":76.14,"depth":406},{"id":"retro","seq":3,"col":76.14,"depth":438},
{"id":"hplus","seq":0,"col":78.61,"depth":375},{"id":"hplus","seq":1,"col":78.61,"depth":442},
{"id":"hplus2","seq":0,"col":78.61,"depth":457},{"id":"hplus2","seq":1,"col":78.61,"depth":491},{"id":"hplus2","seq":2,"col":80.35,"depth":491},
{"id":"eif4f","seq":0,"col":79.48,"depth":375},{"id":"eif4f","seq":1,"col":79.48,"depth":394},{"id":"eif4f","seq":2,"col":79.98,"depth":394},{"id":"eif4f","seq":3,"col":79.98,"depth":413},
{"id":"eif3","seq":0,"col":82.72,"depth":375},{"id":"eif3","seq":1,"col":82.72,"depth":391},{"id":"eif3","seq":2,"col":81.26,"depth":391},
{"id":"hat","seq":0,"col":83.73,"depth":375},{"id":"hat","seq":1,"col":83.73,"depth":404},{"id":"hat","seq":2,"col":84.92,"depth":404},{"id":"hat","seq":3,"col":84.92,"depth":437},
{"id":"escrt","seq":0,"col":90.49,"depth":375},{"id":"escrt","seq":1,"col":90.49,"depth":422},{"id":"escrt","seq":2,"col":86.98,"depth":422},
{"id":"ino80","seq":0,"col":92.5,"depth":375},{"id":"ino80","seq":1,"col":92.5,"depth":414},{"id":"ino80","seq":2,"col":91.36,"depth":414},{"id":"ino80","seq":3,"col":91.36,"depth":455},
{"id":"chrom","seq":0,"col":95.67,"depth":375},{"id":"chrom","seq":1,"col":95.67,"depth":433},{"id":"chrom","seq":2,"col":93.57,"depth":433},{"id":"chrom","seq":3,"col":93.57,"depth":492},
{"id":"axis-complexes","seq":0,"col":0.6,"depth":522},{"id":"axis-complexes","seq":1,"col":96.1,"depth":522},
{"id":"axis-datasets","seq":0,"col":-18.1,"depth":177},{"id":"axis-datasets","seq":1,"col":-18.1,"depth":377}],
"arrowheads":[{"dir":"up","col":-18.1,"depth":176},{"dir":"down","col":-18.1,"depth":378},{"dir":"left","col":0.6,"depth":522},{"dir":"right","col":96.2,"depth":522}],
"italics":[{"label":"minichromosome","col":-14.47,"depth":393,"tier":"large"},{"label":"maintenance (MCM)","col":-16.5,"depth":409,"tier":"large"},{"label":"complex","col":-8.91,"depth":427,"tier":"large"},{"label":"chaperonin complex","col":-13.16,"depth":452,"tier":"large"},{"label":"cytochrome bc1 complex","col":-5.03,"depth":472,"tier":"large"},{"label":"ATP-synthase","col":4.11,"depth":445,"tier":"large"},{"label":"eIF2B","col":6.12,"depth":420,"tier":"large"},{"label":"ribosome","col":14.03,"depth":465,"tier":"large"},{"label":"coat protein","col":13.6,"depth":488,"tier":"large"},{"label":"complex (COPI)","col":10.69,"depth":507,"tier":"large"},{"label":"cohesin","col":17.5,"depth":405,"tier":"medium"},{"label":"complex","col":17.5,"depth":422,"tier":"medium"},{"label":"exosome","col":22.08,"depth":435,"tier":"large"},{"label":"exocyst","col":25.96,"depth":399,"tier":"small"},{"label":"complex","col":25.96,"depth":414,"tier":"small"},{"label":"tRNA","col":33.55,"depth":400,"tier":"small"},{"label":"synthase","col":33.55,"depth":417,"tier":"small"},{"label":"Nuclear Pore","col":25.87,"depth":468,"tier":"large"},{"label":"Complex","col":27.33,"depth":487,"tier":"large"},{"label":"multi-eIF","col":34.55,"depth":433,"tier":"large"},{"label":"complex","col":34.55,"depth":452,"tier":"large"},{"label":"NuRD","col":37.62,"depth":477,"tier":"large"},{"label":"complex","col":36.84,"depth":496,"tier":"large"},{"label":"Large Drosha complex","col":46.62,"depth":491,"tier":"large"},{"label":"exon","col":44.61,"depth":403,"tier":"medium"},{"label":"junction","col":44.61,"depth":420,"tier":"medium"},{"label":"complex","col":44.61,"depth":435,"tier":"medium"},{"label":"integrator","col":54.66,"depth":411,"tier":"large"},{"label":"COPII","col":53.02,"depth":438,"tier":"large"},{"label":"Spliceosome-B","col":58.32,"depth":437,"tier":"large"},{"label":"tubulin","col":63.99,"depth":484,"tier":"large"},{"label":"complex","col":62.8,"depth":502,"tier":"large"},{"label":"mediator","col":69.47,"depth":467,"tier":"large"},{"label":"retromer","col":73.19,"depth":447,"tier":"large"},{"label":"H⁺ ATPase","col":78.34,"depth":502,"tier":"large"},{"label":"eIF4F","col":79.02,"depth":425,"tier":"large"},{"label":"eIF3","col":80.53,"depth":402,"tier":"large"},{"label":"ESCRTIII","col":85.28,"depth":412,"tier":"small"},{"label":"HAT complex","col":81.96,"depth":448,"tier":"large"},{"label":"INO80","col":88.55,"depth":466,"tier":"large"},{"label":"complex","col":87.93,"depth":484,"tier":"large"},{"label":"chromatin","col":90.22,"depth":499,"tier":"small"},{"label":"assembly complex","col":85.56,"depth":514,"tier":"small"},{"label":"stable","col":3.66,"depth":604,"tier":"key"},{"label":"variable","col":24.74,"depth":604,"tier":"key"},{"label":"Nucleosome Remodeling Deacetylase Complex","col":46.25,"depth":578,"tier":"def"},{"label":"complexes formed by eukaryotic initiation factors","col":47.35,"depth":596,"tier":"def"},{"label":"endosomal sorting complex required for transport","col":42.18,"depth":613,"tier":"def"},{"label":"histone acetyltransferase complex","col":44.42,"depth":632,"tier":"def"}],
"uprights":[{"label":"26S Proteasome","col":49.36,"depth":470,"tier":"large"},{"label":"protein complexes","col":39.03,"depth":540,"tier":"huge"},{"label":"rank score per dataset","col":8.84,"depth":626,"tier":"keyTitle"},{"label":"NuRD Complex...","col":35.37,"depth":578,"tier":"def"},{"label":"eIF4F/eIF2B/eIF3...","col":35.37,"depth":596,"tier":"def"},{"label":"ESCRTIII...","col":35.37,"depth":613,"tier":"def"},{"label":"HAT complex...","col":35.37,"depth":632,"tier":"def"}],
"headings":[{"label":"STABLE COMPLEXES","col":0.27,"depth":20},{"label":"VARIABLE COMPLEXES","col":72.2,"depth":20}],
"rotated":[{"label":"median","col":-5.94,"depth":97,"tier":"title"},{"label":"Pearson's","col":-4.02,"depth":108,"tier":"title"},{"label":"datasets","col":-19.38,"depth":282,"tier":"huge"}],
"rotatedItalic":[{"label":"r","col":-4.02,"depth":60,"tier":"title"}]
},
"layer":[
{"data":{"name":"bands"},"mark":{"type":"rect"},"encoding":{"x":{"field":"col","type":"quantitative","axis":null,"scale":{"domain":[0,96],"range":[0,1050],"nice":false,"zero":false}},"x2":{"field":"col2"},"y":{"field":"top","type":"quantitative","axis":null,"scale":{"domain":[0,640],"range":[0,640],"nice":false,"zero":false}},"y2":{"field":"bottom"},"color":{"field":"band","type":"nominal","legend":null,"scale":{"domain":["stable","variable","panel"],"range":["#e3f2fb","#fbf0e4","#e4e4e5"]}}}},
{"data":{"name":"bars"},"mark":{"type":"bar"},"encoding":{"x":{"field":"col","type":"ordinal","axis":null,"scale":{"range":[0,1050],"paddingInner":0.1,"paddingOuter":0.05}},"y":{"field":"r","type":"quantitative","scale":{"domain":[0,0.9],"range":[153,36],"nice":false},"axis":{"orient":"left","title":null,"values":[0,0.2,0.4,0.6,0.8],"format":".1f","domain":false,"ticks":false,"grid":false,"labelFontSize":15,"labelColor":"#333333","labelPadding":6,"labelOffset":-1.5,"labelFont":"Liberation Sans"}},"color":{"field":"col","type":"quantitative","legend":null,"scale":{"domain":[0,5,15,30,40,50,60,70,80,95],"range":["#231f20","#363637","#515254","#737477","#959699","#adafb2","#c6c8ca","#dee0e2","#eceef0","#fbfcfc"]}}}},
{"data":{"name":"thresholds"},"mark":{"type":"rule","color":"#ed3237","strokeWidth":1,"strokeDash":[2,1.5],"opacity":0.85},"encoding":{"y":{"field":"threshold","type":"quantitative","axis":null,"scale":{"domain":[0,0.9],"range":[153,36],"nice":false}}}},
{"data":{"name":"cancers"},"mark":{"type":"rect","invalid":"show"},"encoding":{"x":{"field":"col","type":"ordinal","axis":null,"scale":{"range":[0,1050],"paddingInner":0.07,"paddingOuter":0.03}},"y":{"field":"set","type":"nominal","sort":null,"scale":{"domain":["Colorectal Cancer","Ovarian Cancer","Breast Cancer"],"range":[175,253.5],"paddingInner":0.04,"paddingOuter":0},"axis":{"orient":"left","title":null,"domain":false,"ticks":false,"grid":false,"labelFontSize":18.7,"labelColor":"#231f20","labelPadding":4,"labelLimit":300,"labelFont":"Liberation Sans"}},"color":{"condition":{"test":"datum.score === null","value":"#939598"},"field":"score","type":"quantitative","legend":null,"scale":{"domain":[-5,-4,-3,-2,-1,0,1,2,3,4,5],"range":["#053061","#2166ac","#4393c3","#92c5de","#d1e5f0","#f7f7f7","#fddbc7","#f4a582","#d6604d","#b2182b","#67001f"]}}}},
{"data":{"name":"models"},"mark":{"type":"rect","invalid":"show"},"encoding":{"x":{"field":"col","type":"ordinal","axis":null,"scale":{"range":[0,1050],"paddingInner":0.07,"paddingOuter":0.03}},"y":{"field":"set","type":"nominal","sort":null,"scale":{"domain":["Human cell types","Human Individuals","Founder mouse strains","DO mouse strains"],"range":[267,371.5],"paddingInner":0.04,"paddingOuter":0},"axis":{"orient":"left","title":null,"domain":false,"ticks":false,"grid":false,"labelFontSize":18.7,"labelColor":"#231f20","labelPadding":4,"labelLimit":300,"labelFont":"Liberation Sans"}},"color":{"condition":{"test":"datum.score === null","value":"#939598"},"field":"score","type":"quantitative","scale":{"domain":[-5,-4,-3,-2,-1,0,1,2,3,4,5],"range":["#053061","#2166ac","#4393c3","#92c5de","#d1e5f0","#f7f7f7","#fddbc7","#f4a582","#d6604d","#b2182b","#67001f"]},"legend":{"orient":"none","legendX":40,"legendY":577,"direction":"horizontal","gradientLength":292,"gradientThickness":18,"title":null,"labelOpacity":0,"labelExpr":"''","tickCount":0,"gradientStrokeColor":"#333333","gradientStrokeWidth":1,"zindex":1}}}},
{"encoding":{"x":{"field":"col","type":"quantitative","axis":null,"scale":{"domain":[0,96],"range":[0,1050],"nice":false,"zero":false}},"y":{"field":"depth","type":"quantitative","axis":null,"scale":{"domain":[0,640],"range":[0,640],"nice":false,"zero":false}}},
"layer":[
{"data":{"name":"frames"},"mark":{"type":"rule"},"encoding":{"x2":{"field":"col2"},"stroke":{"field":"part","type":"nominal","legend":null,"scale":{"domain":["heading","baseline"],"range":["#1a1a1a","#4d4d4f"]}},"strokeWidth":{"value":3}}},
{"data":{"name":"leaders"},"mark":{"type":"line","strokeWidth":2.3,"color":"#1a1a1a","strokeJoin":"miter"},"encoding":{"detail":{"field":"id","type":"nominal"},"order":{"field":"seq","type":"quantitative"}}},
{"data":{"name":"arrowheads"},"mark":{"type":"point","filled":true,"size":45,"color":"#1a1a1a","opacity":1},"encoding":{"shape":{"field":"dir","type":"nominal","legend":null,"scale":{"domain":["up","down","left","right"],"range":["triangle-up","triangle-down","triangle-left","triangle-right"]}}}},
{"data":{"name":"italics"},"mark":{"type":"text","align":"left","baseline":"middle","fontStyle":"italic","font":"Liberation Sans","color":"#231f20"},"encoding":{"text":{"field":"label"},"size":{"field":"tier","type":"nominal","legend":null,"scale":{"type":"ordinal","domain":["huge","title","keyTitle","key","large","medium","small","def"],"range":[22.6,18,18.7,17.3,16.5,14.5,13,14.6]}}}},
{"data":{"name":"uprights"},"mark":{"type":"text","align":"left","baseline":"middle","font":"Liberation Sans","color":"#231f20"},"encoding":{"text":{"field":"label"},"size":{"field":"tier","type":"nominal","legend":null,"scale":{"type":"ordinal","domain":["huge","title","keyTitle","key","large","medium","small","def"],"range":[22.6,18,18.7,17.3,16.5,14.5,13,14.6]}}}},
{"data":{"name":"headings"},"mark":{"type":"text","align":"left","baseline":"middle","font":"Liberation Sans","fontWeight":"bold","fontSize":22.4,"color":"#231f20"},"encoding":{"text":{"field":"label"}}},
{"data":{"name":"rotated"},"mark":{"type":"text","align":"center","baseline":"middle","angle":270,"font":"Liberation Sans","color":"#231f20"},"encoding":{"text":{"field":"label"},"size":{"field":"tier","type":"nominal","legend":null,"scale":{"type":"ordinal","domain":["huge","title","keyTitle","key","large","medium","small","def"],"range":[22.6,18,18.7,17.3,16.5,14.5,13,14.6]}}}},
{"data":{"name":"rotatedItalic"},"mark":{"type":"text","align":"center","baseline":"middle","angle":270,"fontStyle":"italic","font":"Liberation Sans","color":"#231f20"},"encoding":{"text":{"field":"label"},"size":{"field":"tier","type":"nominal","legend":null,"scale":{"type":"ordinal","domain":["huge","title","keyTitle","key","large","medium","small","def"],"range":[22.6,18,18.7,17.3,16.5,14.5,13,14.6]}}}}
]}
],
"resolve":{"scale":{"x":"independent","y":"independent","color":"independent"},"axis":{"x":"independent","y":"independent"}}
}
